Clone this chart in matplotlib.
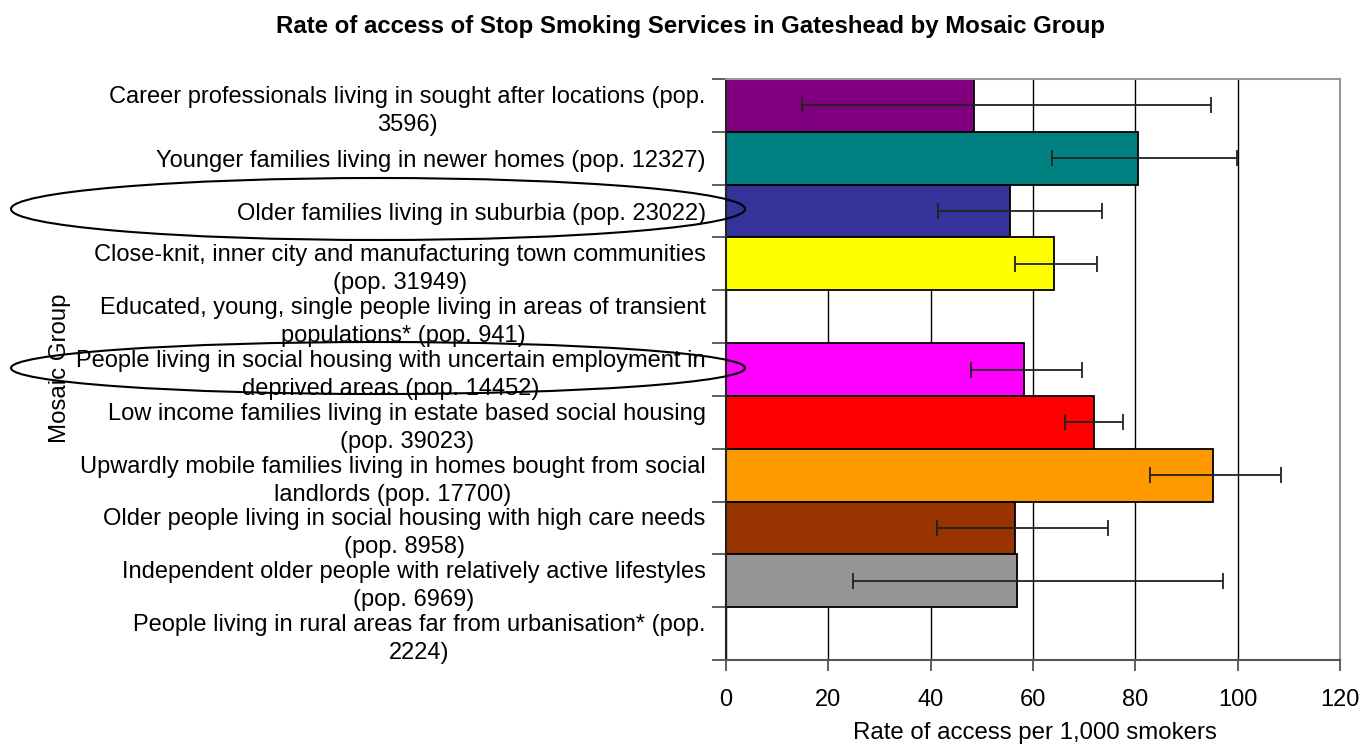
import matplotlib
matplotlib.use("Agg")
import matplotlib.pyplot as plt
from matplotlib.patches import Ellipse
import numpy as np

plt.rcParams['font.family'] = ['Liberation Sans', 'DejaVu Sans']

categories = [
    "Career professionals living in sought after locations (pop.\n3596)",
    "Younger families living in newer homes (pop. 12327)",
    "Older families living in suburbia (pop. 23022)",
    "Close-knit, inner city and manufacturing town communities\n(pop. 31949)",
    "Educated, young, single people living in areas of transient\npopulations* (pop. 941)",
    "People living in social housing with uncertain employment in\ndeprived areas (pop. 14452)",
    "Low income families living in estate based social housing\n(pop. 39023)",
    "Upwardly mobile families living in homes bought from social\nlandlords (pop. 17700)",
    "Older people living in social housing with high care needs\n(pop. 8958)",
    "Independent older people with relatively active lifestyles\n(pop. 6969)",
    "People living in rural areas far from urbanisation* (pop.\n2224)",
]
rates = [48.4, 80.5, 55.5, 64.2, 0.0, 58.2, 71.9, 95.1, 56.4, 56.8, 0.0]
lower_ci = [14.8, 63.7, 41.5, 56.4, 0.0, 47.8, 66.2, 82.8, 41.3, 24.9, 0.0]
upper_ci = [94.8, 99.9, 73.4, 72.5, 0.0, 69.5, 77.5, 108.5, 74.6, 97.1, 0.0]
colors = ["#800080", "#008080", "#333399", "#FFFF00", "#FFFFFF", "#FF00FF",
          "#FF0000", "#FF9900", "#993300", "#969696", "#FFFFFF"]
xticks = [0, 20, 40, 60, 80, 100, 120]

W, H = 1363, 745
fig = plt.figure(figsize=(W / 100, H / 100), dpi=100)
ax = fig.add_axes([726 / W, 1 - 660 / H, (1340 - 726) / W, (660 - 79) / H])

n = len(categories)
y = np.arange(n)
rates_a = np.array(rates)
xerr = np.vstack([rates_a - np.array(lower_ci), np.array(upper_ci) - rates_a])

ax.set_axisbelow(True)
ax.xaxis.grid(True, color="#000000", linewidth=1.0)
for i in range(n):
    if rates[i] > 0:
        ax.barh(y[i], rates[i], height=1.0, color=colors[i], edgecolor="black", linewidth=1.3, zorder=2)
ax.errorbar(rates_a, y, xerr=xerr, fmt="none", ecolor="#222222", elinewidth=1.3,
            capsize=6, capthick=1.3, zorder=3, clip_on=False)

ax.set_xlim(0, 120)
ax.set_ylim(n - 0.5, -0.5)
ax.set_xticks(xticks)
ax.set_xticklabels([str(v) for v in xticks], fontsize=17)
ax.tick_params(axis="x", length=8, width=1.2, color="#444444", pad=13)

ax.set_yticks(np.arange(-0.5, n, 1.0))
ax.set_yticklabels([])
ax.tick_params(axis="y", which="major", length=10, width=1.2, color="#444444")
ax.set_yticks(y, minor=True)
ax.set_yticklabels(categories, minor=True, fontsize=17, multialignment="center", linespacing=1.35)
ax.tick_params(axis="y", which="minor", length=0, pad=14.5)

for s in ["top", "right"]:
    ax.spines[s].set_color("#999999")
    ax.spines[s].set_linewidth(1.5)
ax.spines["bottom"].set_color("#555555")
ax.spines["bottom"].set_linewidth(1.5)
ax.spines["left"].set_color("#222222")
ax.spines["left"].set_linewidth(1.5)

fig.text(690 / W, 1 - 26 / H, "Rate of access of Stop Smoking Services in Gateshead by Mosaic Group",
         ha="center", va="center", fontsize=17.3, fontweight="bold")
fig.text(1035 / W, 1 - 733 / H, "Rate of access per 1,000 smokers", ha="center", va="center", fontsize=17.3)
fig.text(60 / W, 1 - 368 / H, "Mosaic Group", ha="center", va="center", rotation=90, fontsize=17.3)

# overlay for hand-drawn ellipses
ov = fig.add_axes([0, 0, 1, 1], facecolor="none")
ov.set_xlim(0, W)
ov.set_ylim(H, 0)
ov.axis("off")
ov.add_patch(Ellipse((378, 209), 734, 62, fill=False, edgecolor="black", linewidth=1.5))
ov.add_patch(Ellipse((378, 368), 734, 52, fill=False, edgecolor="black", linewidth=1.5))

fig.savefig("out.png", dpi=100)
